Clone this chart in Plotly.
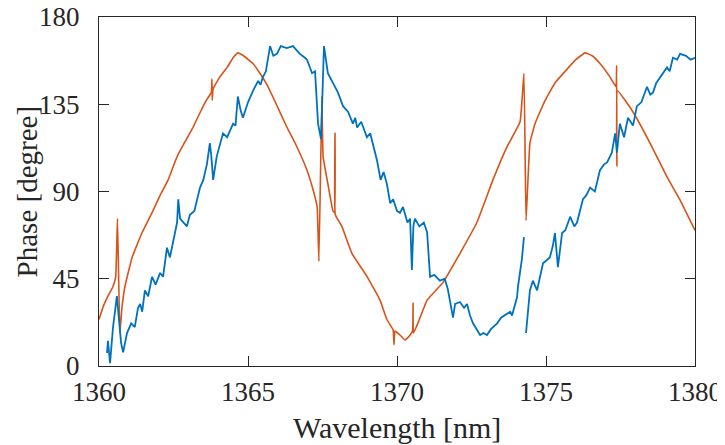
import plotly.graph_objects as go

# Orange (reference) phase curve
orange_x = [1360.00, 1360.15, 1360.30, 1360.47, 1360.56, 1360.62, 1360.70, 1360.77, 1360.87,
            1361.11, 1361.44, 1361.81, 1362.05, 1362.32, 1362.62, 1362.90, 1363.15, 1363.40,
            1363.60, 1363.77, 1363.79, 1363.80, 1363.83, 1364.05, 1364.30, 1364.50, 1364.66,
            1364.85, 1365.17, 1365.40, 1365.64, 1365.95, 1366.31, 1366.58, 1366.98, 1367.20,
            1367.32, 1367.38, 1367.48, 1367.52, 1367.68, 1367.85, 1367.91, 1367.92, 1367.93,
            1368.15, 1368.49, 1369.00, 1369.43, 1369.66, 1369.87, 1369.90, 1369.93, 1370.10,
            1370.27, 1370.44, 1370.52, 1370.54, 1370.55, 1370.70, 1371.01, 1371.54, 1372.11,
            1372.68, 1373.22, 1373.69, 1374.13, 1374.26, 1374.33, 1374.46, 1374.63, 1374.97,
            1375.30, 1375.70, 1376.00, 1376.31, 1376.55, 1376.81, 1377.15, 1377.35, 1377.37,
            1377.38, 1377.40, 1377.92, 1378.49, 1379.06, 1379.50, 1380.00]
orange_y = [24, 31, 36, 41, 46, 76, 17, 30, 41,
            56, 68.6, 80, 88, 96, 108, 116, 123, 131,
            137, 141, 148, 137, 143, 149, 154, 159, 161.5,
            160, 156, 151, 145, 135, 123, 115, 101, 90,
            82, 54, 139, 108, 94, 80, 79, 120, 78,
            72, 58, 46, 34, 24, 18.6, 11, 18, 16,
            13.4, 16, 18, 32.5, 17, 22, 34, 43, 58,
            74, 96, 113, 126, 151, 75, 115, 125, 137,
            146, 153, 158, 161.5, 160, 156, 149, 144, 155,
            103, 142, 131, 115, 97.5, 85.6, 70]

# Blue (measured) phase curve; None marks the break in the trace
blue_x = [1360.27, 1360.30, 1360.37, 1360.47, 1360.60, 1360.64, 1360.74, 1360.81, 1360.94,
          1361.08, 1361.20, 1361.31, 1361.38, 1361.45, 1361.54, 1361.65, 1361.78, 1361.90,
          1362.05, 1362.15, 1362.28, 1362.38, 1362.50, 1362.62, 1362.66, 1362.72, 1362.95,
          1363.05, 1363.20, 1363.29, 1363.39, 1363.50, 1363.62, 1363.72, 1363.77, 1363.83,
          1363.95, 1364.16, 1364.30, 1364.50, 1364.58, 1364.66, 1364.75, 1364.83, 1365.00,
          1365.17, 1365.34, 1365.42, 1365.50, 1365.60, 1365.74, 1365.85, 1365.97, 1366.10,
          1366.30, 1366.51, 1366.62, 1366.74, 1366.91, 1366.98, 1367.15, 1367.25, 1367.35,
          1367.45, 1367.55, 1367.68, 1367.85, 1368.02, 1368.19, 1368.36, 1368.52, 1368.60,
          1368.66, 1368.80, 1368.99, 1369.10, 1369.33, 1369.45, 1369.55, 1369.66, 1369.77,
          1369.87, 1370.00, 1370.10, 1370.20, 1370.35, 1370.44, 1370.50, 1370.55, 1370.60,
          1370.75, 1370.90, 1371.01, 1371.11, 1371.25, 1371.44, 1371.60, 1371.70, 1371.88,
          1371.95, 1372.11, 1372.25, 1372.35, 1372.45, 1372.55, 1372.70, 1372.79, 1372.90,
          1373.02, 1373.15, 1373.36, 1373.50, 1373.69, 1373.80, 1373.86, 1374.03, 1374.06,
          1374.13, 1374.19, 1374.26, None, 1374.33, 1374.40, 1374.46, 1374.56, 1374.70,
          1374.80, 1374.90, 1375.13, 1375.23, 1375.30, 1375.40, 1375.54, 1375.65, 1375.81,
          1375.95, 1376.04, 1376.24, 1376.35, 1376.48, 1376.64, 1376.81, 1376.95, 1377.05,
          1377.21, 1377.32, 1377.38, 1377.48, 1377.62, 1377.75, 1377.92, 1378.05, 1378.20,
          1378.39, 1378.50, 1378.59, 1378.70, 1378.83, 1379.06, 1379.15, 1379.26, 1379.40,
          1379.50, 1379.70, 1379.85, 1380.00]
blue_y = [6.7, 13, 1.5, 20, 36, 29, 12, 7, 17,
          22, 20, 30, 32, 28, 39, 36, 46, 42,
          48, 46, 61, 56, 66, 74, 86, 76, 72,
          78, 80, 86, 92, 96, 104, 115, 108, 96,
          108, 120, 118, 125, 124, 139, 132, 128, 136,
          142, 147, 145, 149, 152, 165, 160, 161, 165,
          164, 165, 163, 161, 159, 158, 151, 152, 125,
          117, 165, 151, 146, 141, 134, 131, 125, 128,
          123, 126, 118, 120, 106, 96, 100, 94, 84,
          86, 80, 79, 82, 74, 76, 49.5, 72, 76,
          72, 74, 69, 46, 47, 44, 45, 40, 25,
          32, 33, 30, 32, 26, 22, 18, 16, 17,
          16, 19, 22, 25, 27, 28, 26, 35.6, 41,
          48, 55, 66.5, None, 17, 28, 39, 44, 39,
          46, 53, 56, 62, 68.6, 51, 68.6, 70, 77,
          72, 74, 86, 88, 92, 90, 101, 104, 105,
          110, 120, 110, 125, 118, 128, 124, 134, 136,
          144, 140, 141, 146, 149, 154, 152, 159, 158,
          161, 160, 158, 159]

x_ticks = [1360, 1365, 1370, 1375, 1380]
y_ticks = [0, 45, 90, 135, 180]
x_title = "Wavelength [nm]"
y_title = "Phase [degree]"

FONT = "Liberation Serif"
AX = "#262626"

fig = go.Figure()
fig.add_trace(go.Scatter(x=orange_x, y=orange_y, mode="lines",
                         line=dict(color="#D95319", width=1.6, shape="spline", smoothing=0.3),
                         connectgaps=False, showlegend=False))
fig.add_trace(go.Scatter(x=blue_x, y=blue_y, mode="lines",
                         line=dict(color="#0072BD", width=1.8), connectgaps=False,
                         showlegend=False))

axis_common = dict(showline=True, linecolor=AX, linewidth=1.3, mirror="ticks",
                   ticks="inside", ticklen=10, tickwidth=1.3, tickcolor=AX,
                   showgrid=False, zeroline=False, automargin=False,
                   ticklabeloverflow="allow",
                   tickfont=dict(family=FONT, size=27, color=AX))

fig.update_layout(
    width=725, height=445,
    margin=dict(l=91, r=38, t=9, b=87),
    paper_bgcolor="white", plot_bgcolor="white",
    xaxis=dict(range=[1360, 1380], tickvals=x_ticks, ticktext=[str(v) for v in x_ticks],
               ticklabelstandoff=1, **axis_common),
    yaxis=dict(range=[0, 180], tickvals=y_ticks, ticktext=[str(v) for v in y_ticks],
               ticklabelstandoff=13, **axis_common),
    annotations=[
        dict(text=x_title, xref="paper", yref="paper", x=0.5, y=-0.175,
             xanchor="center", yanchor="middle", showarrow=False,
             font=dict(family=FONT, size=30, color=AX)),
        dict(text=y_title, xref="paper", yref="paper", x=-0.121, y=0.5,
             xanchor="center", yanchor="middle", textangle=-90, showarrow=False,
             font=dict(family=FONT, size=29, color=AX)),
    ],
)

fig.write_html("out.html")
